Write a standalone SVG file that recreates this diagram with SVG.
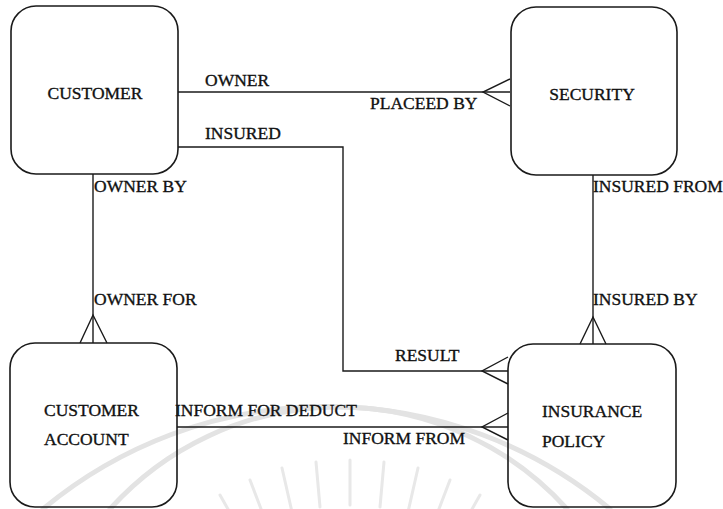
<svg xmlns="http://www.w3.org/2000/svg" width="723" height="509" viewBox="0 0 723 509">
<style>
.box{fill:none;stroke:#1a1a1a;stroke-width:1.6}
.ln{fill:none;stroke:#1a1a1a;stroke-width:1.4}
.wm{fill:none;stroke:#e3e3e3;stroke-width:5;stroke-linecap:round}
.ray{stroke:#e8e8e8;stroke-width:3;stroke-linecap:round}
text{font-family:"Liberation Serif","DejaVu Serif",serif;font-size:17.5px;fill:#111;stroke:#111;stroke-width:0.35}
</style>
<rect width="723" height="509" fill="#ffffff"/>
<g id="watermark">
<path class="wm" d="M 43 509 A 443 443 0 0 1 610 509"/>
<path class="wm" d="M 110 509 A 307 307 0 0 1 567 509"/>
<line class="ray" x1="242" y1="534" x2="220" y2="495"/>
<line class="ray" x1="266" y1="522" x2="250" y2="480"/>
<line class="ray" x1="292" y1="512" x2="282" y2="468"/>
<line class="ray" x1="320" y1="507" x2="316" y2="462"/>
<line class="ray" x1="350" y1="505" x2="350" y2="460"/>
<line class="ray" x1="380" y1="507" x2="384" y2="462"/>
<line class="ray" x1="408" y1="512" x2="418" y2="468"/>
<line class="ray" x1="434" y1="522" x2="450" y2="480"/>
<line class="ray" x1="458" y1="534" x2="480" y2="495"/>
</g>
<g id="connectors">
<line class="ln" x1="178" y1="92" x2="510" y2="92"/>
<polyline class="ln" points="510,79 483,92 510,106"/>
<polyline class="ln" points="178,147 343,147 343,371 508,371"/>
<polyline class="ln" points="508,357 482,371 508,384"/>
<line class="ln" x1="177" y1="427" x2="508" y2="427"/>
<polyline class="ln" points="508,413 482,427 508,440"/>
<line class="ln" x1="93" y1="174" x2="93" y2="343"/>
<polyline class="ln" points="80,343 93,315 107,343"/>
<line class="ln" x1="593" y1="175" x2="593" y2="344"/>
<polyline class="ln" points="580,344 593,317 606,344"/>
<text x="205" y="86">OWNER</text>
<text x="370" y="109">PLACEED BY</text>
<text x="205" y="139">INSURED</text>
<text x="94" y="192">OWNER BY</text>
<text x="94" y="305">OWNER FOR</text>
<text x="593" y="192">INSURED FROM</text>
<text x="593" y="305">INSURED BY</text>
<text x="395" y="361">RESULT</text>
<text x="175" y="416">INFORM FOR DEDUCT</text>
<text x="343" y="444">INFORM FROM</text>
</g>
<g id="customer">
<rect class="box" x="11" y="6" width="167" height="168" rx="25"/>
<text x="95" y="99" text-anchor="middle">CUSTOMER</text>
</g>
<g id="security">
<rect class="box" x="511" y="7" width="166" height="168" rx="25"/>
<text x="592" y="100" text-anchor="middle">SECURITY</text>
</g>
<g id="customer-account">
<rect class="box" x="10" y="343" width="167" height="164" rx="25"/>
<text x="44" y="416">CUSTOMER</text>
<text x="44" y="445">ACCOUNT</text>
</g>
<g id="insurance-policy">
<rect class="box" x="508" y="344" width="168" height="163" rx="25"/>
<text x="542" y="417">INSURANCE</text>
<text x="542" y="447">POLICY</text>
</g>
</svg>
